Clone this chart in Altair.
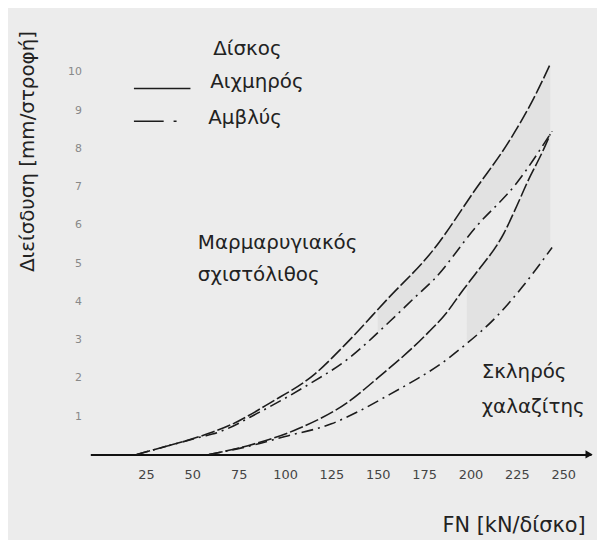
import altair as alt
import pandas as pd

FONT = "DejaVu Sans"

# ---- data (FN in kN/disc, penetration in mm/rev) ----
disc_names = ["Αιχμηρός", "Αμβλύς"]

marble_sharp_x = [20, 35, 54, 71, 92, 116, 132, 155, 180, 203, 221, 234, 243]
marble_sharp_y = [0, 0.2, 0.47, 0.78, 1.35, 2.1, 2.85, 4.05, 5.35, 6.95, 8.2, 9.3, 10.2]
marble_blunt_x = [20, 35, 54, 64, 86, 111, 134, 157, 171, 180, 203, 225, 244]
marble_blunt_y = [0, 0.2, 0.45, 0.58, 1.1, 1.78, 2.5, 3.5, 4.15, 4.56, 5.95, 7.1, 8.45]
quartz_sharp_x = [59, 80, 107, 134, 150, 175, 187, 196, 203, 218, 225, 231, 239, 243]
quartz_sharp_y = [0, 0.23, 0.67, 1.37, 2.0, 3.08, 3.7, 4.3, 4.74, 5.78, 6.5, 7.15, 7.93, 8.37]
quartz_blunt_x = [59, 80, 100, 125, 139, 155, 171, 182, 196, 214, 228, 244]
quartz_blunt_y = [0, 0.21, 0.47, 0.8, 1.11, 1.53, 1.97, 2.3, 2.82, 3.6, 4.38, 5.41]

# shaded (dotted) bands between sharp and blunt curves
marble_band_x = [150, 165, 180, 195, 210, 225, 243]
marble_band_hi = [3.8, 4.55, 5.35, 6.4, 7.45, 8.5, 10.2]
marble_band_lo = [3.2, 3.85, 4.55, 5.45, 6.35, 7.15, 8.35]
quartz_band_x = [198, 210, 222, 234, 243]
quartz_band_hi = [4.43, 5.23, 6.19, 7.44, 8.37]
quartz_band_lo = [2.9, 3.43, 4.05, 4.77, 5.35]

x_ticks = [25, 50, 75, 100, 125, 150, 175, 200, 225, 250]
y_ticks = [1, 2, 3, 4, 5, 6, 7, 8, 9, 10]

ann_text = ["Μαρμαρυγιακός", "σχιστόλιθος", "Σκληρός", "χαλαζίτης"]
ann_x = [53, 53, 206, 206]
ann_y = [5.52, 4.69, 2.15, 1.24]

# ---- build tables ----
rows = []
for name, disc, xs, ys in [
    ("marble_sharp", disc_names[0], marble_sharp_x, marble_sharp_y),
    ("marble_blunt", disc_names[1], marble_blunt_x, marble_blunt_y),
    ("quartz_sharp", disc_names[0], quartz_sharp_x, quartz_sharp_y),
    ("quartz_blunt", disc_names[1], quartz_blunt_x, quartz_blunt_y),
]:
    for i, (a, b) in enumerate(zip(xs, ys)):
        rows.append({"curve": name, "disc": disc, "x": a, "y": b, "i": i})
curves = pd.DataFrame(rows)

bands = pd.concat([
    pd.DataFrame({"band": "marble", "x": marble_band_x, "hi": marble_band_hi, "lo": marble_band_lo}),
    pd.DataFrame({"band": "quartz", "x": quartz_band_x, "hi": quartz_band_hi, "lo": quartz_band_lo}),
])

ann = pd.DataFrame({"t": ann_text, "x": ann_x, "y": ann_y})

SHARP_DASH = [14, 3]
BLUNT_DASH = [12, 5, 2, 5]

x_scale = alt.Scale(domain=[-5, 265], nice=False, zero=False)
y_scale = alt.Scale(domain=[0, 10.78], nice=False)

x_enc = alt.X("x:Q", scale=x_scale, axis=alt.Axis(
    values=x_ticks, title="FN [kN/δίσκο]", grid=False, ticks=False,
    domain=True, domainColor="#111111", domainWidth=2,
    labelFont=FONT, labelFontSize=13, labelColor="#444444", labelPadding=14,
    titleFont=FONT, titleFontSize=21, titleFontWeight="normal", titleColor="#222222",
    titleX=499, titleY=72, titleAlign="right", titleBaseline="middle",
))
y_enc = alt.Y("y:Q", scale=y_scale, axis=alt.Axis(
    values=y_ticks, title="Διείσδυση [mm/στροφή]", grid=False, ticks=False,
    domain=False, labelFont=FONT, labelFontSize=11, labelColor="#888888",
    labelPadding=9,
    titleFont=FONT, titleFontSize=20, titleFontWeight="normal", titleColor="#222222",
    titleX=-63, titleY=110, titleAngle=270, titleAlign="center", titleBaseline="middle",
))

band_layer = alt.Chart(bands).mark_area(color="#888888", opacity=0.1, interpolate="monotone").encode(
    x=alt.X("x:Q", scale=x_scale),
    y=alt.Y("hi:Q", scale=y_scale),
    y2="lo:Q",
    detail="band:N",
)

lines = alt.Chart(curves).mark_line(color="#1c1c1c", strokeWidth=1.6, interpolate="monotone").encode(
    x=x_enc,
    y=y_enc,
    order="i:Q",
    detail="curve:N",
    strokeDash=alt.StrokeDash("disc:N", scale=alt.Scale(domain=disc_names, range=[SHARP_DASH, BLUNT_DASH]), legend=None),
)

labels = alt.Chart(ann).mark_text(align="left", baseline="middle", font=FONT, fontSize=20, color="#222222").encode(
    x=alt.X("x:Q", scale=x_scale),
    y=alt.Y("y:Q", scale=y_scale),
    text="t:N",
)

arrow = alt.Chart(pd.DataFrame({"a": [0]})).mark_point(
    shape="triangle-right", filled=True, size=70, color="#111111", opacity=1
).encode(x=alt.value(503), y=alt.value(416))


def one(txt):
    return alt.Chart(pd.DataFrame({"t": [txt]}))


leg_title = one("Δίσκος").mark_text(align="left", baseline="middle", font=FONT, fontSize=20, color="#222222").encode(
    x=alt.value(124), y=alt.value(7), text="t:N")
leg_t1 = one(disc_names[0]).mark_text(align="left", baseline="middle", font=FONT, fontSize=20, color="#222222").encode(
    x=alt.value(121), y=alt.value(40), text="t:N")
leg_t2 = one(disc_names[1]).mark_text(align="left", baseline="middle", font=FONT, fontSize=20, color="#222222").encode(
    x=alt.value(119), y=alt.value(77), text="t:N")
leg_r1 = one("r1").mark_rule(color="#1c1c1c", strokeWidth=1.6).encode(
    x=alt.value(44), x2=alt.value(101), y=alt.value(47))
leg_r2 = one("r2").mark_rule(color="#1c1c1c", strokeWidth=1.6, strokeDash=[30, 10, 3, 10]).encode(
    x=alt.value(44), x2=alt.value(91), y=alt.value(80))

chart = alt.layer(
    band_layer, lines, labels, arrow, leg_title, leg_t1, leg_t2, leg_r1, leg_r2
).properties(
    width=505, height=416,
    autosize=alt.AutoSizeParams(type="none"),
    padding={"left": 83, "top": 32, "right": 6, "bottom": 84},
    background="#ececec",
).configure_view(stroke=None)

chart.save("out.html", embed_options={"renderer": "svg", "actions": False})
